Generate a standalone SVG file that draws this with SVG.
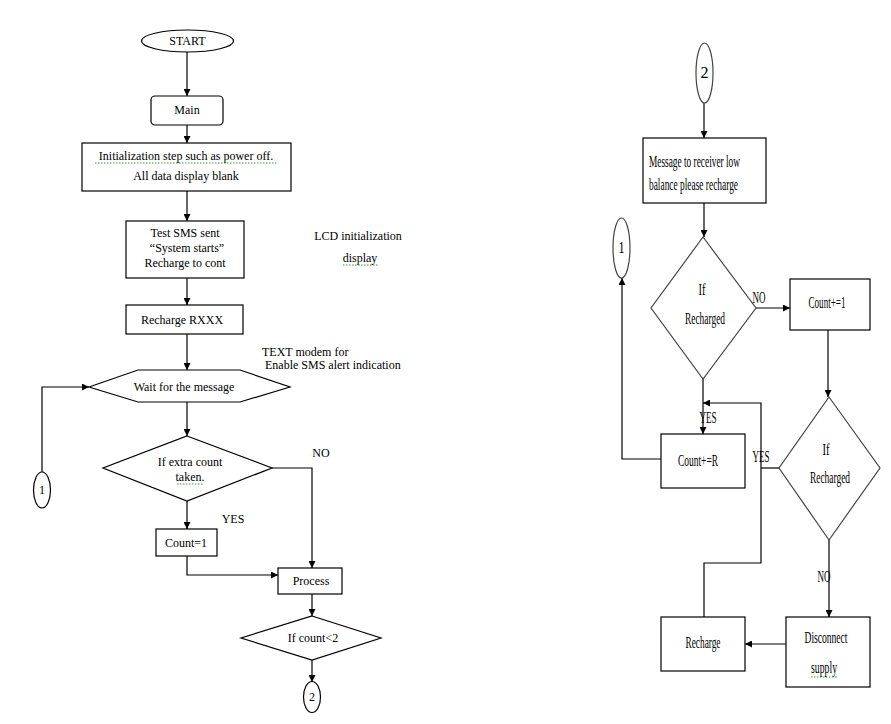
<svg xmlns="http://www.w3.org/2000/svg" width="891" height="724" viewBox="0 0 891 724">
<defs>
<marker id="ah" viewBox="0 0 10 10" refX="10" refY="5" markerWidth="7" markerHeight="7" markerUnits="userSpaceOnUse" orient="auto">
<path d="M0,0 L10,5 L0,10 z" fill="#000"/>
</marker>
<style>
.s{fill:#fff;stroke:#000;stroke-width:1.2}
.g{fill:#fff;stroke:#444;stroke-width:1.2}
.c{fill:none;stroke:#000;stroke-width:1.2}
.a{fill:none;stroke:#000;stroke-width:1.2;marker-end:url(#ah)}
.t{font-family:"Liberation Serif",serif;font-size:12px;fill:#000;text-anchor:middle}
.tl{font-family:"Liberation Serif",serif;font-size:12px;fill:#000}
.r{font-family:"Liberation Serif",serif;font-size:16px;fill:#000;text-anchor:middle}
.rl{font-family:"Liberation Serif",serif;font-size:16px;fill:#000}
.sq{fill:none;stroke:#3a9a3a;stroke-width:1;stroke-dasharray:1.5 1.5}
</style>
</defs>
<rect width="891" height="724" fill="#fff"/>

<g id="connectors">
<path class="a" d="M187,52 V96"/>
<path class="a" d="M187,125 V143"/>
<path class="a" d="M187,191 V221"/>
<path class="a" d="M187,278 V305"/>
<path class="a" d="M187,334 V370"/>
<path class="a" d="M42,472 V387 H89"/>
<path class="a" d="M187,402 V436"/>
<path class="a" d="M272,468 H312 V568"/>
<path class="a" d="M187,501 V529"/>
<path class="a" d="M187,556 V575 H278"/>
<path class="a" d="M312,594 V616"/>
<path class="a" d="M312,660 V682"/>

<path class="a" d="M704,103 V138"/>
<path class="a" d="M704,203 V237"/>
<path class="a" d="M756,308 H790"/>
<path class="a" d="M828,330 V397"/>
<path class="a" d="M703,379 V434"/>
<path class="a" d="M661,459 H622 V278"/>
<path class="c" d="M779,468 H761"/>
<path class="a" d="M704,617 V563 H761 V403 H703"/>
<path class="a" d="M829,540 V617"/>
<path class="a" d="M786,644 H745"/>
</g>

<g id="start">
<ellipse class="s" cx="187.5" cy="41" rx="46" ry="11"/>
<text class="t" x="187.5" y="45">START</text>
</g>
<g id="main">
<rect class="s" x="151" y="96" width="72" height="29" rx="4"/>
<text class="t" x="187" y="114">Main</text>
</g>
<g id="init">
<rect class="s" x="82" y="143" width="209" height="48"/>
<text class="t" x="186" y="160">Initialization step such as power off.</text>
<path class="sq" d="M95,163 H278"/>
<text class="t" x="186" y="180">All data display blank</text>
</g>
<g id="testsms">
<rect class="s" x="126" y="221" width="118" height="57"/>
<text class="t" x="185" y="237">Test SMS sent</text>
<text class="t" x="187" y="252">“System starts”</text>
<text class="t" x="185" y="267">Recharge to cont</text>
</g>
<g id="lcd-note">
<text class="t" x="358" y="240">LCD initialization</text>
<text class="t" x="360" y="262">display</text>
<path class="sq" d="M343,265 H378"/>
</g>
<g id="recharge-rxxx">
<rect class="s" x="126" y="305" width="117" height="29"/>
<text class="t" x="182" y="324">Recharge RXXX</text>
</g>
<g id="text-note">
<text class="tl" x="262" y="356">TEXT modem for</text>
<text class="tl" x="265" y="369">Enable SMS  alert indication</text>
</g>
<g id="wait">
<polygon class="s" points="89,387 138,370 240,370 290,387 240,402 138,402"/>
<text class="t" x="184" y="391">Wait for the message</text>
</g>
<g id="extra-count">
<polygon class="s" points="187,436 272,468 187,501 103,468"/>
<text class="t" x="190" y="466">If extra count</text>
<text class="t" x="190" y="481">taken.</text>
<path class="sq" d="M177,484 H204"/>
</g>
<text class="t" x="321" y="457">NO</text>
<text class="t" x="233" y="523">YES</text>
<g id="count1">
<rect class="s" x="156" y="529" width="61" height="27"/>
<text class="t" x="186" y="547">Count=1</text>
</g>
<g id="process">
<rect class="s" x="278" y="568" width="64" height="26"/>
<text class="t" x="311" y="585">Process</text>
</g>
<g id="count-lt2">
<polygon class="s" points="312,616 381,638 312,660 241,638"/>
<text class="t" x="313" y="642">If count&lt;2</text>
</g>
<g id="conn2-left">
<ellipse class="s" cx="312" cy="697" rx="8.5" ry="15.5"/>
<text class="t" x="312" y="701">2</text>
</g>
<g id="conn1-left">
<ellipse class="s" cx="42" cy="490" rx="8.5" ry="18"/>
<text class="t" x="42" y="494">1</text>
</g>

<g id="conn2-right">
<ellipse class="g" cx="704.5" cy="73" rx="8.5" ry="30"/>
<text class="r" x="704.5" y="78" textLength="8" lengthAdjust="spacingAndGlyphs">2</text>
</g>
<g id="message">
<rect class="s" x="643" y="138" width="123" height="65"/>
<text class="rl" x="649" y="167" textLength="91" lengthAdjust="spacingAndGlyphs">Message to receiver low</text>
<text class="rl" x="649" y="190" textLength="89" lengthAdjust="spacingAndGlyphs">balance please recharge</text>
</g>
<g id="conn1-right">
<ellipse class="g" cx="621.5" cy="248" rx="8.5" ry="30"/>
<text class="r" x="621.5" y="253" textLength="6" lengthAdjust="spacingAndGlyphs">1</text>
</g>
<g id="recharged1">
<polygon class="g" points="703,237 756,308 703,379 651,308"/>
<text class="r" x="702" y="295" textLength="7" lengthAdjust="spacingAndGlyphs">If</text>
<text class="r" x="705" y="324" textLength="40" lengthAdjust="spacingAndGlyphs">Recharged</text>
</g>
<text class="r" x="759" y="303" textLength="13" lengthAdjust="spacingAndGlyphs">NO</text>
<g id="count-plus1">
<rect class="s" x="790" y="279" width="80" height="51"/>
<text class="r" x="827" y="308" textLength="37" lengthAdjust="spacingAndGlyphs">Count+=1</text>
</g>
<text class="r" x="708" y="423" textLength="17" lengthAdjust="spacingAndGlyphs">YES</text>
<g id="count-plusR">
<rect class="s" x="661" y="434" width="84" height="54"/>
<text class="r" x="698" y="466" textLength="40" lengthAdjust="spacingAndGlyphs">Count+=R</text>
</g>
<text class="r" x="761" y="462" textLength="17" lengthAdjust="spacingAndGlyphs">YES</text>
<g id="recharged2">
<polygon class="g" points="829,397 880,468 829,540 779,468"/>
<text class="r" x="826" y="455" textLength="7" lengthAdjust="spacingAndGlyphs">If</text>
<text class="r" x="830" y="483" textLength="40" lengthAdjust="spacingAndGlyphs">Recharged</text>
</g>
<text class="r" x="824" y="582" textLength="13" lengthAdjust="spacingAndGlyphs">NO</text>
<g id="disconnect">
<rect class="s" x="786" y="617" width="84" height="70"/>
<text class="r" x="826" y="643" textLength="43" lengthAdjust="spacingAndGlyphs">Disconnect</text>
<text class="r" x="824" y="673" textLength="26" lengthAdjust="spacingAndGlyphs">supply</text>
<path class="sq" d="M811,677 H837"/>
</g>
<g id="recharge">
<rect class="s" x="661" y="617" width="84" height="54"/>
<text class="r" x="703" y="648" textLength="35" lengthAdjust="spacingAndGlyphs">Recharge</text>
</g>
</svg>
